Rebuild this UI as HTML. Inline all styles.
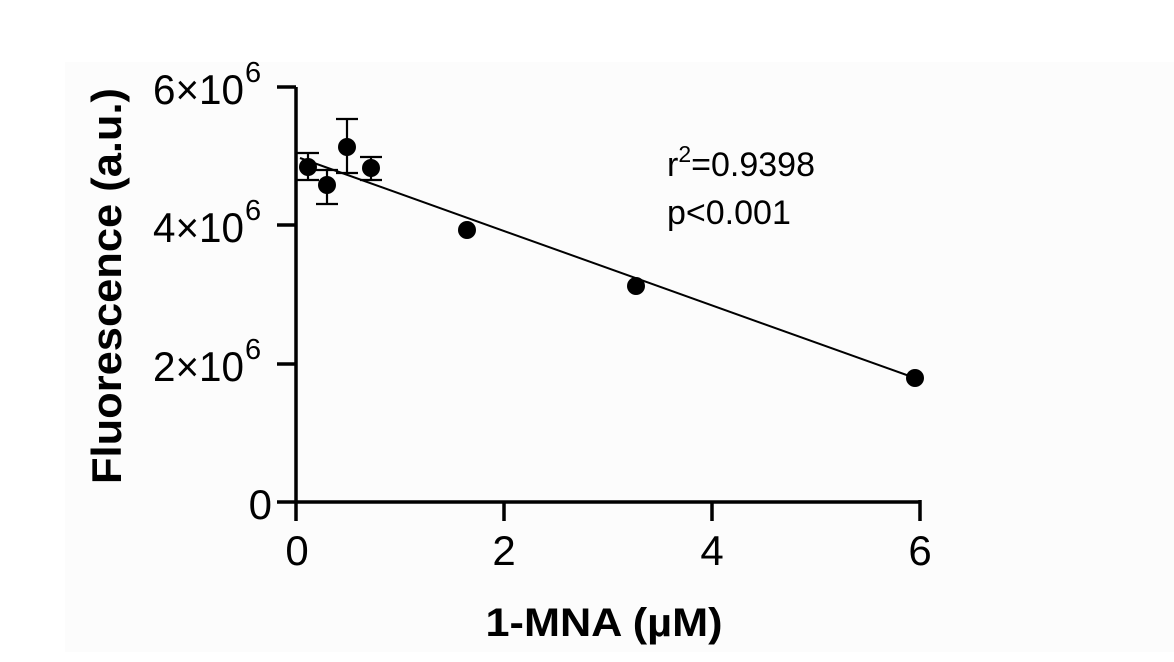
<!DOCTYPE html>
<html><head><style>
html,body{margin:0;padding:0;background:#fff;}
svg{display:block;}
text{font-family:"Liberation Sans",Arial,sans-serif;fill:#000;}
</style></head><body>
<svg width="1174" height="662" viewBox="0 0 1174 662" xmlns="http://www.w3.org/2000/svg">
<rect x="0" y="0" width="1174" height="662" fill="#fff"/>
<rect x="65" y="62" width="1109" height="590" fill="#fcfcfc"/>
<g stroke="#000" stroke-width="3.5" fill="none">
<line x1="296" y1="87" x2="296" y2="521"/>
<line x1="277" y1="502" x2="920" y2="502"/>
<line x1="277" y1="87" x2="296" y2="87"/>
<line x1="277" y1="225" x2="296" y2="225"/>
<line x1="277" y1="364" x2="296" y2="364"/>
<line x1="504" y1="502" x2="504" y2="521"/>
<line x1="712" y1="502" x2="712" y2="521"/>
<line x1="920" y1="500" x2="920" y2="521"/>
</g>
<g font-size="42" text-anchor="end">
<text x="244" y="104" textLength="91" lengthAdjust="spacingAndGlyphs">6×10</text><text x="244" y="242" textLength="91" lengthAdjust="spacingAndGlyphs">4×10</text><text x="244" y="381" textLength="91" lengthAdjust="spacingAndGlyphs">2×10</text>
<text x="272" y="519">0</text>
</g>
<g font-size="29" text-anchor="start">
<text x="245" y="82">6</text><text x="245" y="220">6</text><text x="245" y="359">6</text>
</g>
<g font-size="42" text-anchor="middle">
<text x="297" y="565">0</text><text x="504" y="565">2</text><text x="712" y="565">4</text><text x="920" y="565">6</text>
</g>
<line x1="300" y1="158" x2="915" y2="378" stroke="#000" stroke-width="2"/>
<g stroke="#000" stroke-width="2.2">
<line x1="308" y1="153" x2="308" y2="180"/><line x1="297" y1="153" x2="319" y2="153"/><line x1="297" y1="180" x2="319" y2="180"/>
<line x1="327" y1="170" x2="327" y2="204"/><line x1="316" y1="204" x2="338" y2="204"/><line x1="316" y1="170" x2="338" y2="170"/>
<line x1="347" y1="119" x2="347" y2="173"/><line x1="336" y1="119" x2="358" y2="119"/><line x1="336" y1="173" x2="358" y2="173"/>
<line x1="371" y1="157" x2="371" y2="180"/><line x1="360" y1="157" x2="382" y2="157"/><line x1="360" y1="180" x2="382" y2="180"/>
</g>
<g fill="#000">
<circle cx="308" cy="167" r="9"/><circle cx="327" cy="185" r="9"/><circle cx="347" cy="147" r="9"/><circle cx="371" cy="168" r="9"/>
<circle cx="467" cy="230" r="9"/><circle cx="636" cy="286" r="9"/><circle cx="915" cy="378" r="9"/>
</g>
<text x="667" y="176" font-size="34">r<tspan font-size="23" dy="-14">2</tspan><tspan dy="14">=0.9398</tspan></text>
<text x="667" y="224" font-size="34">p&lt;0.001</text>
<text transform="translate(121,286) rotate(-90)" text-anchor="middle" font-size="42" font-weight="bold" textLength="396" lengthAdjust="spacingAndGlyphs">Fluorescence (a.u.)</text>
<text x="604" y="636" text-anchor="middle" font-size="40" font-weight="bold" textLength="237" lengthAdjust="spacingAndGlyphs">1-MNA (µM)</text>
</svg>
</body></html>
